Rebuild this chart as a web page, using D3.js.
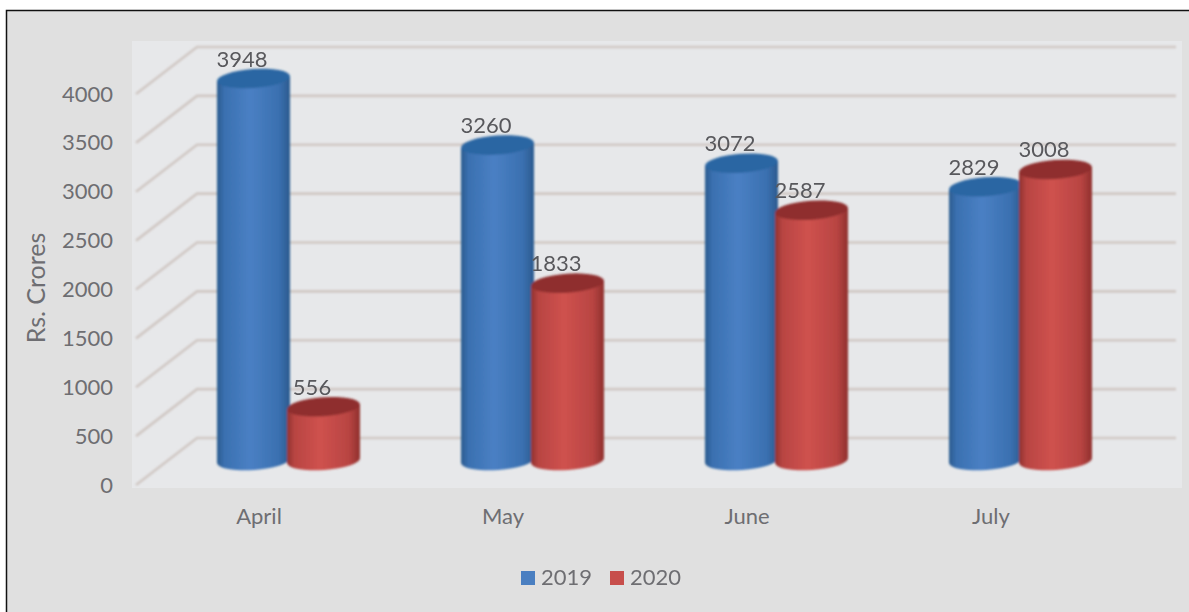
<!DOCTYPE html>
<html><head><meta charset="utf-8">
<script src="https://cdn.jsdelivr.net/npm/d3@7/dist/d3.min.js"></script>
<style>html,body{margin:0;padding:0;background:#fff;overflow:hidden}svg{display:block}text{font-family:Lato,"Open Sans",sans-serif}</style>
</head><body><svg id="c" width="1189" height="612"></svg>
<script>
const months = ["April","May","June","July"];
const seriesNames = ["2019","2020"];
const values2019 = [3948,3260,3072,2829];
const values2020 = [556,1833,2587,3008];
const yTicks = [0,500,1000,1500,2000,2500,3000,3500,4000];
const colors = {"2019":{base:"#4a80c4",dark:"#3a70b0",edge:"#2b5a8e",cap:"#2b66a3",swatch:"#4a7fc1"},
                "2020":{base:"#cf524e",dark:"#b84442",edge:"#8f302e",cap:"#8f2f2d",swatch:"#c74e4b"}};

const svg = d3.select("#c");
const defs = svg.append("defs");
defs.append("filter").attr("id","soft").append("feGaussianBlur").attr("stdDeviation",0.8);
seriesNames.forEach(s=>{
  const g = defs.append("linearGradient").attr("id","g"+s);
  [[0,colors[s].edge],[0.1,colors[s].dark],[0.45,colors[s].base],[0.85,colors[s].dark],[1,colors[s].edge]]
    .forEach(([o,c])=>g.append("stop").attr("offset",o).attr("stop-color",c));
});

// frame
svg.append("rect").attr("x",7).attr("y",11).attr("width",1182).attr("height",601).attr("fill","#e0e0e0");
svg.append("path").attr("d","M6.5,612V10.5H1189").attr("fill","none").attr("stroke","#111").attr("stroke-width",1.5);
// plot panel
svg.append("rect").attr("x",132).attr("y",41).attr("width",1050).attr("height",447).attr("fill","#e7e8ea");

const yFront = d3.scaleLinear().domain([0,4000]).range([485,94]);
const yBack  = d3.scaleLinear().domain([0,4000]).range([438,47]);
const yBar   = d3.scaleLinear().domain([0,4000]).range([460.5,73.5]);
const xFront = 136, xBack = 197, xEnd = 1176;

const grid = svg.append("g").attr("filter","url(#soft)").attr("fill","none").attr("stroke","#d0c8c4").attr("stroke-width",2.6);
grid.selectAll("path").data(yTicks).join("path")
  .attr("d",d=>`M${xFront},${yFront(d)}L${xBack},${yBack(d)}H${xEnd}`);

// y axis
const ax = svg.append("g").attr("transform","translate(116,0)")
  .call(d3.axisLeft(yFront).tickValues(yTicks).tickSize(0).tickPadding(3).tickFormat(d3.format("d")));
ax.select(".domain").remove();
ax.selectAll("text").attr("font-size",22).attr("fill","#6e6e72").style("font-family","Lato");

svg.append("text").attr("transform","translate(45,288) rotate(-90)").attr("text-anchor","middle")
  .attr("font-size",25).attr("fill","#6e6e72").text("Rs. Crores");

// x scales
const x = d3.scaleBand().domain(months).range([166.5,1142.5]);
const xInner = d3.scaleBand().domain(seriesNames).range([x.bandwidth()/2-70,x.bandwidth()/2+70]).paddingInner(0);
const rx = 36.5, ry = 9.5, tilt = -4;

// category labels
const axX = svg.append("g").attr("transform","translate(-29.5,505)")
  .call(d3.axisBottom(x).tickSize(0).tickPadding(3));
axX.select(".domain").remove();
axX.selectAll("text").attr("font-size",22).attr("fill","#6e6e72").style("font-family","Lato");

// cylinders
const seriesData = [values2019,values2020];
const bars = svg.append("g").attr("filter","url(#soft)");
seriesNames.forEach((s,si)=>{
  months.forEach((m,mi)=>{
    const v = seriesData[si][mi];
    const cx = x(m)+xInner(s)+xInner.bandwidth()/2;
    const yt = yBar(v), yb = yBar(0);
    const dy = rx*Math.sin(tilt*Math.PI/180);
    const g = bars.append("g");
    g.append("path").attr("fill",`url(#g${s})`)
      .attr("d",`M${cx-rx},${yt-dy}L${cx-rx},${yb-dy}A${rx},${ry} ${tilt} 0 0 ${cx+rx},${yb+dy}L${cx+rx},${yt+dy}Z`);
    g.append("ellipse").attr("cx",cx).attr("cy",yt).attr("rx",rx).attr("ry",ry)
      .attr("transform",`rotate(${tilt} ${cx} ${yt})`).attr("fill",colors[s].cap);
  });
});
// data labels
seriesNames.forEach((s,si)=>{
  months.forEach((m,mi)=>{
    const v = seriesData[si][mi];
    const cx = x(m)+xInner(s)+xInner.bandwidth()/2;
    svg.append("text").attr("x",cx-11.5).attr("y",yBar(v)-12).attr("text-anchor","middle")
      .attr("font-size",22).attr("fill","#58585c").text(v);
  });
});

// legend
const legendX = d3.scaleOrdinal().domain(seriesNames).range([521,610]);
seriesNames.forEach(s=>{
  svg.append("rect").attr("x",legendX(s)).attr("y",571).attr("width",14).attr("height",14).attr("fill",colors[s].swatch);
  svg.append("text").attr("x",legendX(s)+20).attr("y",585).attr("font-size",22).attr("fill","#6e6e72").text(s);
});
</script></body></html>
